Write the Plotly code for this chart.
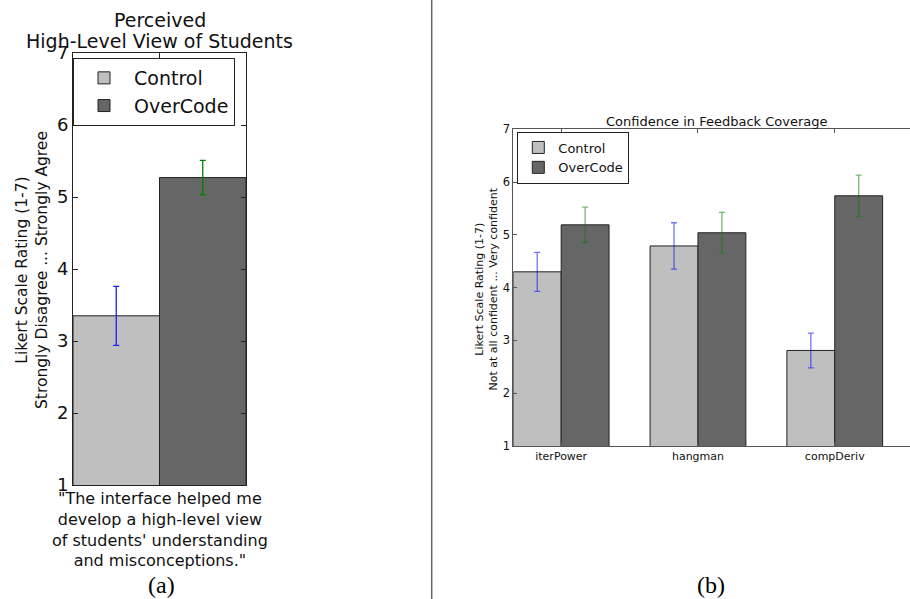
import plotly.graph_objects as go

# ---------------- data ----------------
series_names = ["Control", "OverCode"]

left_category = ["High-Level View of Students"]
left_control = [3.35]
left_control_err = [0.41]
left_overcode = [5.27]
left_overcode_err = [0.24]

right_categories = ["iterPower", "hangman", "compDeriv"]
right_control = [4.30, 4.79, 2.81]
right_control_err = [0.37, 0.44, 0.33]
right_overcode = [5.19, 5.04, 5.74]
right_overcode_err = [0.335, 0.385, 0.39]

yticks = [1, 2, 3, 4, 5, 6, 7]

# ---------------- style ----------------
W, H = 910, 599
FONT = "DejaVu Sans"
C_CTRL = "#bfbfbf"
C_OVER = "#666666"
EDGE = "#222222"


def px(x):
    return x / W


def py(y):
    return 1 - y / H


fig = go.Figure()

# left panel
fig.add_trace(go.Bar(
    x=left_category, y=left_control, name=series_names[0],
    offset=-0.5, width=0.5,
    marker=dict(color=C_CTRL, line=dict(color=EDGE, width=1)),
    error_y=dict(type="data", array=left_control_err, color="#1f1fff",
                 thickness=1.3, width=3),
    xaxis="x", yaxis="y", legend="legend",
))
fig.add_trace(go.Bar(
    x=left_category, y=left_overcode, name=series_names[1],
    offset=0, width=0.5,
    marker=dict(color=C_OVER, line=dict(color=EDGE, width=1)),
    error_y=dict(type="data", array=left_overcode_err, color="#008000",
                 thickness=1.3, width=3),
    xaxis="x", yaxis="y", legend="legend",
))

# right panel
fig.add_trace(go.Bar(
    x=right_categories, y=right_control, name=series_names[0],
    offset=-0.35, width=0.35,
    marker=dict(color=C_CTRL, line=dict(color=EDGE, width=1)),
    error_y=dict(type="data", array=right_control_err, color="rgba(0,0,255,0.55)",
                 thickness=1.3, width=3),
    xaxis="x2", yaxis="y2", legend="legend2",
))
fig.add_trace(go.Bar(
    x=right_categories, y=right_overcode, name=series_names[1],
    offset=0, width=0.35,
    marker=dict(color=C_OVER, line=dict(color=EDGE, width=1)),
    error_y=dict(type="data", array=right_overcode_err, color="rgba(0,128,0,0.55)",
                 thickness=1.3, width=3),
    xaxis="x2", yaxis="y2", legend="legend2",
))

axis_common = dict(showgrid=False, zeroline=False, showline=True,
                   ticks="inside", fixedrange=True, automargin=False)

fig.update_layout(
    template="none",
    width=W, height=H,
    margin=dict(l=0, r=0, t=0, b=0, pad=0),
    paper_bgcolor="white", plot_bgcolor="white",
    font=dict(family=FONT, color="#111111"),
    barmode="overlay",
    xaxis=dict(domain=[px(73), px(246)], type="category", range=[-0.5, 0.5],
               anchor="y", showticklabels=False, mirror="ticks",
               linecolor=EDGE, linewidth=1, ticklen=5, tickcolor=EDGE,
               **axis_common),
    yaxis=dict(domain=[py(485), py(53)], range=[1, 7], tickvals=yticks,
               anchor="x", mirror="ticks", linecolor=EDGE, linewidth=1,
               ticklen=5, tickcolor=EDGE, tickfont=dict(size=18, family=FONT),
               **axis_common),
    xaxis2=dict(domain=[px(513.3), 1.0], type="category", range=[-0.35, 2.55],
                anchor="y2", mirror="ticks", linecolor="#555555", linewidth=1,
                ticklen=4, tickcolor="#555555",
                tickfont=dict(size=11, family=FONT), **axis_common),
    yaxis2=dict(domain=[py(446), py(129.3)], range=[1, 7], tickvals=yticks,
                anchor="x2", mirror=False, linecolor="#555555", linewidth=1,
                ticklen=4, tickcolor="#555555",
                tickfont=dict(size=11.5, family=FONT), **axis_common),
    legend=dict(x=px(73), y=py(58), xanchor="left", yanchor="top",
                bgcolor="white", bordercolor=EDGE, borderwidth=1,
                font=dict(size=19, family=FONT), itemwidth=50,
                entrywidth=110, traceorder="normal"),
    legend2=dict(x=px(517.3), y=py(131.5), xanchor="left", yanchor="top",
                 bgcolor="white", bordercolor=EDGE, borderwidth=1,
                 font=dict(size=13, family=FONT), itemwidth=30,
                 traceorder="normal"),
    showlegend=True,
)

ann = []
# left title (two lines)
ann.append(dict(text="Perceived", x=px(159.5), y=py(20), xref="paper", yref="paper",
                xanchor="center", yanchor="middle", showarrow=False,
                font=dict(size=19, family=FONT)))
ann.append(dict(text="High-Level View of Students", x=px(159.5), y=py(41),
                xref="paper", yref="paper", xanchor="center", yanchor="middle",
                showarrow=False, font=dict(size=19, family=FONT)))
# left x label (quote)
ann.append(dict(text="\"The interface helped me<br>develop a high-level view<br>"
                     "of students' understanding<br>and misconceptions.\"",
                x=px(159.5), y=py(529), xref="paper", yref="paper",
                xanchor="center", yanchor="middle", showarrow=False,
                font=dict(size=16, family=FONT)))
# left y label
ann.append(dict(text="Likert Scale Rating (1-7)<br>Strongly Disagree ... Strongly Agree",
                x=px(32), y=py(270), xref="paper", yref="paper", textangle=-90,
                xanchor="center", yanchor="middle", showarrow=False,
                font=dict(size=15.5, family=FONT)))
# right title
ann.append(dict(text="Confidence in Feedback Coverage", x=px(717), y=py(122),
                xref="paper", yref="paper", xanchor="center", yanchor="middle",
                showarrow=False, font=dict(size=13, family=FONT)))
# right y label
ann.append(dict(text="Likert Scale Rating (1-7)<br>Not at all confident ... Very confident",
                x=px(485.5), y=py(289), xref="paper", yref="paper", textangle=-90,
                xanchor="center", yanchor="middle", showarrow=False,
                font=dict(size=11, family=FONT)))
# panel letters
ann.append(dict(text="(a)", x=px(161), y=py(585), xref="paper", yref="paper",
                xanchor="center", yanchor="middle", showarrow=False,
                font=dict(size=24, family="Liberation Serif", color="#000000")))
ann.append(dict(text="(b)", x=px(711), y=py(585), xref="paper", yref="paper",
                xanchor="center", yanchor="middle", showarrow=False,
                font=dict(size=24, family="Liberation Serif", color="#000000")))
fig.update_layout(annotations=ann)

# vertical divider between the two panels
fig.add_shape(type="line", xref="paper", yref="paper",
              x0=px(431.7), x1=px(431.7), y0=0, y1=1,
              line=dict(color="#666666", width=1.5))

fig.write_html("out.html")
